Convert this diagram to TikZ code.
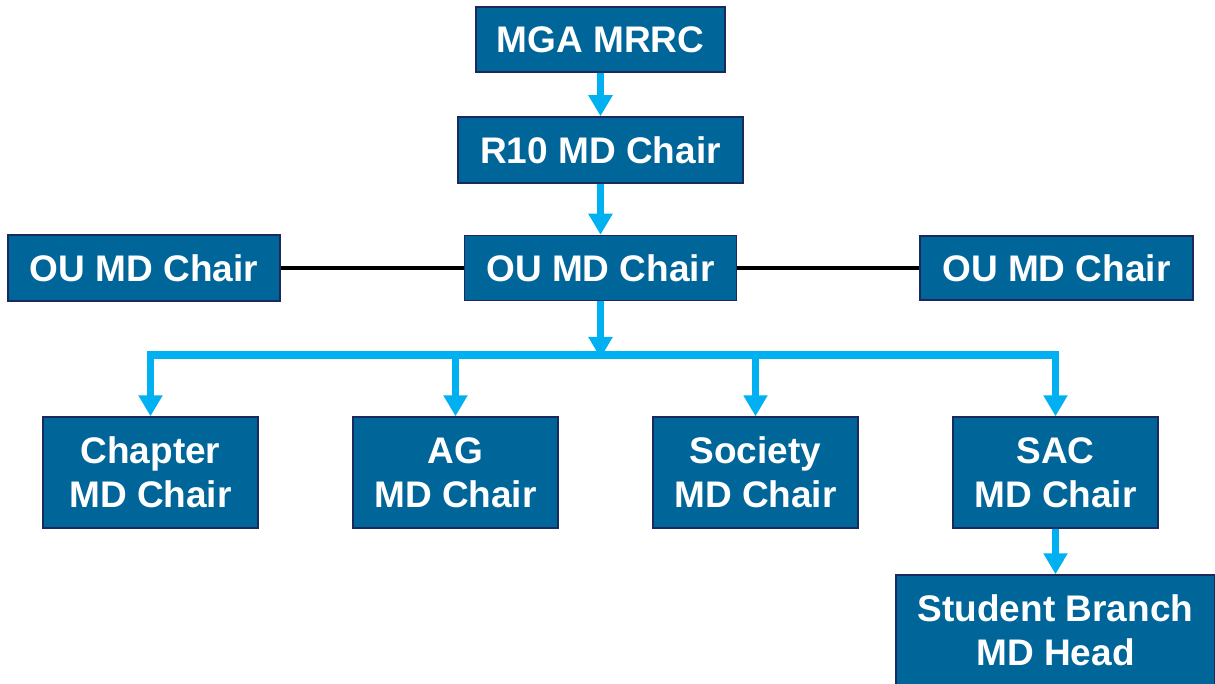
\documentclass[tikz,border=0pt]{standalone}
\usepackage{fontspec}
\setmainfont{Liberation Sans}
\usepackage{xcolor}
\usepackage{tikz}
\usetikzlibrary{arrows.meta}

\definecolor{boxblue}{HTML}{006699}
\definecolor{boxedge}{HTML}{1B2A5E}
\definecolor{linkblue}{HTML}{00B0F0}

\tikzset{
    mdbox/.style={rectangle,
          draw = boxedge,
          line width = 1.5pt,
          fill = boxblue,
          text = white,
          align = center,
          inner sep = 0pt,
          font = \fontsize{37}{44}\selectfont\bfseries},
    flow/.style={draw = linkblue, line width = 7.5pt, line join = miter,
          -{Triangle[width=23pt,length=21pt]}},
    bus/.style={draw = linkblue, line width = 7.5pt, line join = miter},
    peer/.style={draw = black, line width = 4pt}
}

\begin{document}
\begin{tikzpicture}[x=1pt,y=-1pt]

    \useasboundingbox (0,0) rectangle (1215,684);

    \node[mdbox,
          minimum width = 249pt,
          minimum height = 65pt
          ] (mga) at (600.5,39.5) {MGA MRRC};

    \node[mdbox,
          minimum width = 285pt,
          minimum height = 66pt
          ] (r10) at (600.5,150) {R10 MD Chair};

    \node[mdbox,
          minimum width = 272pt,
          minimum height = 65pt
          ] (ou) at (600.5,268) {OU MD Chair};

    \node[mdbox,
          minimum width = 272pt,
          minimum height = 66pt
          ] (ouleft) at (144,268) {OU MD Chair};

    \node[mdbox,
          minimum width = 273pt,
          minimum height = 64pt
          ] (ouright) at (1056.5,268) {OU MD Chair};

    \node[mdbox,
          minimum width = 215pt,
          minimum height = 111pt
          ] (chapter) at (150.5,472.5) {Chapter\\MD Chair};

    \node[mdbox,
          minimum width = 205pt,
          minimum height = 111pt
          ] (ag) at (455.5,472.5) {AG\\MD Chair};

    \node[mdbox,
          minimum width = 205pt,
          minimum height = 111pt
          ] (society) at (755.5,472.5) {Society\\MD Chair};

    \node[mdbox,
          minimum width = 205pt,
          minimum height = 111pt
          ] (sac) at (1055.5,472.5) {SAC\\MD Chair};

    \node[mdbox,
          minimum width = 319pt,
          minimum height = 111pt
          ] (student) at (1055.5,630.5) {Student Branch\\MD Head};

    \coordinate (split) at (600.5,355);

    %chain down
    \path[flow] (mga) -- (r10);
    \path[flow] (r10) -- (ou);
    \path[flow] (ou) -- ([yshift=-3pt]split);
    \path[flow] (sac) -- (student);

    %peers
    \path[peer] (ouleft) -- (ou);
    \path[peer] (ou) -- (ouright);

    %branches
    \path[bus] (chapter.north |- split) -- (sac.north |- split);
    \path[flow] (split) -| (chapter.north);
    \path[flow] (ag.north |- split) -- (ag.north);
    \path[flow] (society.north |- split) -- (society.north);
    \path[flow] (split) -| (sac.north);

\end{tikzpicture}
\end{document}
